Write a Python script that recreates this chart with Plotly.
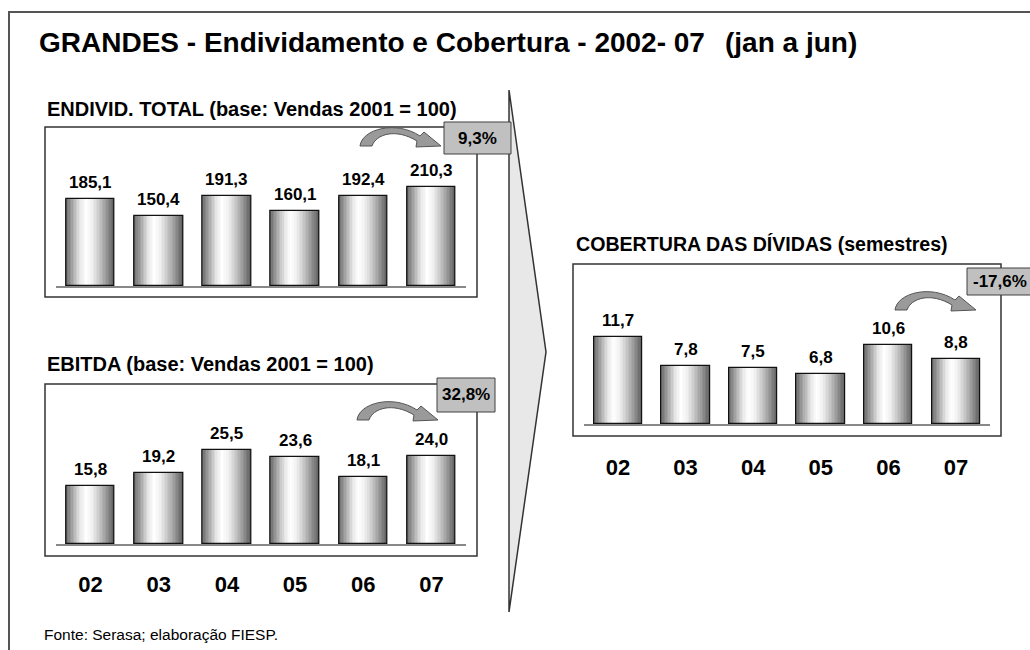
import plotly.graph_objects as go

# ---------------- data ----------------
years = ["02", "03", "04", "05", "06", "07"]
endivid_total = [185.1, 150.4, 191.3, 160.1, 192.4, 210.3]
ebitda = [15.8, 19.2, 25.5, 23.6, 18.1, 24.0]
cobertura = [11.7, 7.8, 7.5, 6.8, 10.6, 8.8]
variacao = ["9,3%", "32,8%", "-17,6%"]
subtitles = [
    "ENDIVID. TOTAL (base: Vendas 2001 = 100)",
    "EBITDA (base: Vendas 2001 = 100)",
    "COBERTURA DAS DÍVIDAS (semestres)",
]
title_main = "GRANDES - Endividamento e Cobertura - 2002- 07"
title_sub = "(jan a jun)"
source = "Fonte: Serasa; elaboração FIESP."

# ---------------- helpers ----------------
W, H = 1030, 650
FONT = "Arial, Liberation Sans, Helvetica, sans-serif"


def px(x):
    return x / W


def py(y):
    return 1 - y / H


def fmt(v):
    return f"{v:.1f}".replace(".", ",")


GRAD = [(0.0, 0x66), (0.15, 0xa6), (0.30, 0xe6), (0.42, 0xff),
        (0.55, 0xf0), (0.70, 0xc6), (0.85, 0x96), (1.0, 0x5e)]


def shade(t):
    for (t0, c0), (t1, c1) in zip(GRAD[:-1], GRAD[1:]):
        if t0 <= t <= t1:
            c = c0 + (c1 - c0) * (t - t0) / (t1 - t0)
            c = int(round(c))
            return f"rgb({c},{c},{c})"
    return "rgb(255,255,255)"


BAR_W = 0.715
NSL = 32

panels = [
    dict(vals=endivid_total, xa="x", ya="y", xdom=(56.4, 465.6), ydom=(286, 136), yr=320, ticks=False,
         sub_xy=(45, 109), box=(45, 127, 477, 297), pbox=(444, 122, 511, 154), ptxt=(477.5, 138),
         arrow=(360, 146), subsize=20),
    dict(vals=ebitda, xa="x2", ya="y2", xdom=(56.4, 465.6), ydom=(544, 394), yr=40.8, ticks=True, standoff=20,
         sub_xy=(45, 364), box=(45, 384, 477, 556), pbox=(437, 378, 495, 412), ptxt=(466, 395),
         arrow=(357, 420), subsize=20),
    dict(vals=cobertura, xa="x3", ya="y3", xdom=(584.2, 989.8), ydom=(424, 274), yr=20.2, ticks=True, standoff=23,
         sub_xy=(574, 244), box=(573, 264, 1001, 436), pbox=(967, 268, 1045, 295), ptxt=(999.5, 281.5),
         arrow=(895, 310), subsize=19.6),
]

fig = go.Figure()
shapes = []
annotations = []

# outer frame and chevron
shapes.append(dict(type="rect", xref="paper", yref="paper", x0=px(9), x1=px(1045), y0=py(12), y1=py(665),
                   line=dict(color="#555555", width=2), fillcolor="rgba(0,0,0,0)", layer="below"))
shapes.append(dict(type="path", xref="paper", yref="paper",
                   path=f"M {px(509)},{py(90)} L {px(546)},{py(352)} L {px(509)},{py(612)} Z",
                   fillcolor="#e8e8e8", line=dict(color="#333333", width=1.5), layer="below"))

ARROW = [("M", [(0, 0)]), ("C", [(2, -17), (36, -26), (60, -10)]), ("L", [(64, -14)]),
         ("L", [(81, 0)]), ("L", [(56, 1)]), ("L", [(57, -5)]),
         ("C", [(36, -18), (16, -12), (12, 0)]), ("Z", [])]


def arrow_path(x0, y0):
    parts = []
    for cmd, pts in ARROW:
        s = cmd
        for (dx, dy) in pts:
            s += f" {px(x0 + dx):.5f},{py(y0 + dy):.5f}"
        parts.append(s)
    return " ".join(parts)


layout_axes = {}
for i, p in enumerate(panels):
    sfx = "" if i == 0 else str(i + 1)
    for k in range(NSL):
        t = (k + 0.5) / NSL
        fig.add_trace(go.Bar(
            x=years, y=p["vals"], xaxis=p["xa"], yaxis=p["ya"],
            width=BAR_W / NSL * (1.2 if k < NSL - 1 else 1.0),
            offset=-BAR_W / 2 + k * BAR_W / NSL,
            marker=dict(color=shade(t), line=dict(width=0)),
            hoverinfo="skip", showlegend=False))
    fig.add_trace(go.Bar(
        x=years, y=p["vals"], xaxis=p["xa"], yaxis=p["ya"],
        width=BAR_W, offset=-BAR_W / 2,
        marker=dict(color="rgba(0,0,0,0)", line=dict(color="#111111", width=1.2)),
        hoverinfo="skip", showlegend=False))

    for j, v in enumerate(p["vals"]):
        annotations.append(dict(x=j, y=v, xref=p["xa"], yref=p["ya"], text=fmt(v), showarrow=False,
                                yanchor="bottom", yshift=5,
                                font=dict(family=FONT, size=17, color="black", weight="bold")))

    xaxis = dict(domain=[px(p["xdom"][0]), px(p["xdom"][1])], type="category", range=[-0.5, 5.5],
                 anchor=p["ya"], showline=True, linecolor="#888888", linewidth=2, showgrid=False,
                 zeroline=False, ticks="", showticklabels=p["ticks"],
                 tickfont=dict(family=FONT, size=22, color="black", weight="bold"), fixedrange=True)
    if p["ticks"]:
        xaxis["ticklabelstandoff"] = p["standoff"]
    yaxis = dict(domain=[py(p["ydom"][0]), py(p["ydom"][1])], range=[0, p["yr"]], anchor=p["xa"],
                 visible=False, fixedrange=True)
    layout_axes["xaxis" + sfx] = xaxis
    layout_axes["yaxis" + sfx] = yaxis

    # subtitle
    annotations.append(dict(x=px(p["sub_xy"][0]), y=py(p["sub_xy"][1]), xref="paper", yref="paper",
                            text=subtitles[i], showarrow=False, xanchor="left", yanchor="middle",
                            font=dict(family=FONT, size=p["subsize"], color="black", weight="bold")))
    # panel box
    bx = p["box"]
    shapes.append(dict(type="rect", xref="paper", yref="paper", x0=px(bx[0]), x1=px(bx[2]),
                       y0=py(bx[1]), y1=py(bx[3]), line=dict(color="#333333", width=1.5),
                       fillcolor="rgba(0,0,0,0)", layer="below"))
    # curved arrow
    shapes.append(dict(type="path", xref="paper", yref="paper", path=arrow_path(*p["arrow"]),
                       fillcolor="#9a9a9a", line=dict(color="#555555", width=1), layer="above"))
    # percent box
    pb = p["pbox"]
    shapes.append(dict(type="rect", xref="paper", yref="paper", x0=px(pb[0]), x1=px(pb[2]),
                       y0=py(pb[1]), y1=py(pb[3]), line=dict(color="#404040", width=1),
                       fillcolor="#c0c0c0", layer="above"))
    annotations.append(dict(x=px(p["ptxt"][0]), y=py(p["ptxt"][1]), xref="paper", yref="paper",
                            text=variacao[i], showarrow=False, xanchor="center", yanchor="middle",
                            font=dict(family=FONT, size=17, color="black", weight="bold")))

# titles and source
annotations.append(dict(x=px(37), y=py(42), xref="paper", yref="paper", text=title_main, showarrow=False,
                        xanchor="left", yanchor="middle",
                        font=dict(family=FONT, size=28, color="black", weight="bold")))
annotations.append(dict(x=px(723), y=py(42), xref="paper", yref="paper", text=title_sub, showarrow=False,
                        xanchor="left", yanchor="middle",
                        font=dict(family=FONT, size=28, color="black", weight="bold")))
annotations.append(dict(x=px(42), y=py(634), xref="paper", yref="paper", text=source, showarrow=False,
                        xanchor="left", yanchor="middle",
                        font=dict(family=FONT, size=15.5, color="black")))

fig.update_layout(
    width=W, height=H, margin=dict(l=0, r=0, t=0, b=0),
    paper_bgcolor="white", plot_bgcolor="rgba(0,0,0,0)",
    barmode="overlay", bargap=0, showlegend=False,
    shapes=shapes, annotations=annotations,
    font=dict(family=FONT, color="black"),
    **layout_axes,
)

fig.write_html("out.html", config={"displayModeBar": False},
               post_script="document.body.style.margin='0';document.body.style.overflow='hidden';")
